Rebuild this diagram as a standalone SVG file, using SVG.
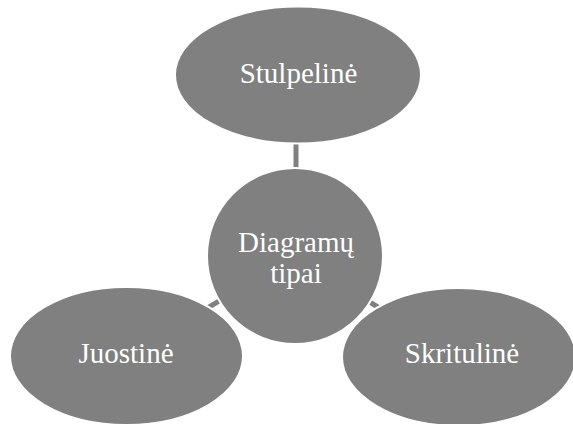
<svg xmlns="http://www.w3.org/2000/svg" width="573" height="424" viewBox="0 0 573 424">
<style>
.n{fill:#808080;stroke:#ffffff;stroke-width:2}
.c{stroke:#808080;stroke-width:5;fill:none}
.t{font-size:29px;fill:#ffffff;text-anchor:middle}
</style>
<rect width="573" height="424" fill="#ffffff"/>
<g id="connectors">
<line class="c" x1="296" y1="140" x2="296" y2="172"/>
<line class="c" x1="295" y1="256" x2="126.5" y2="356"/>
<line class="c" x1="295" y1="256" x2="459" y2="357"/>
</g>
<g id="center">
<circle class="n" cx="295" cy="256" r="88"/>
<text class="t" font-family="Liberation Serif, serif" x="296" y="252">Diagramų</text>
<text class="t" font-family="Liberation Serif, serif" x="296" y="283">tipai</text>
</g>
<g id="top">
<ellipse class="n" cx="298" cy="75" rx="123" ry="68.5"/>
<text class="t" font-family="Liberation Serif, serif" x="298.5" y="83">Stulpelinė</text>
</g>
<g id="left">
<ellipse class="n" cx="126.5" cy="356" rx="116.5" ry="69"/>
<text class="t" font-family="Liberation Serif, serif" x="126" y="363">Juostinė</text>
</g>
<g id="right">
<ellipse class="n" cx="459" cy="357" rx="117" ry="69"/>
<text class="t" font-family="Liberation Serif, serif" x="462" y="363">Skritulinė</text>
</g>
</svg>
